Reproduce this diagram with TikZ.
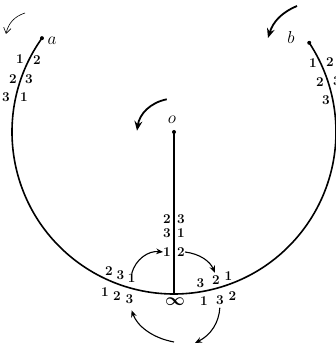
\documentclass[tikz,border=0pt]{standalone}
\usepackage{amsmath,amssymb}
\usepackage{tikz}
\usetikzlibrary{arrows.meta,positioning}

\begin{document}
\begin{tikzpicture}[
  x=1pt, y=1pt,
  num/.style={inner sep=0pt, font=\fontsize{13.5}{15}\selectfont\bfseries},
  lbl/.style={inner sep=0pt, font=\fontsize{16}{18}\selectfont},
  dot/.style={circle, fill=black, inner sep=0pt, minimum size=4pt},
  arr/.style={-{Stealth[length=2.4mm, width=2mm]}, line width=1.1pt},
  turn/.style={-{Stealth[length=3.4mm, width=2.8mm, inset=1.2mm]}, line width=1.8pt},
  thinturn/.style={-{Straight Barb[length=2mm, width=2.6mm]}, line width=0.6pt}]
  \useasboundingbox (0,0) rectangle (336,345);
  \clip (0,0) rectangle (336,345);
  % centre of the circle and its two ends
  \node[dot] (o) at (174,213) {};
  \path (o.center) ++(144.6:162) node[dot] (a) {};
  \path (o.center) ++(33.4:162) node[dot] (b) {};
  \coordinate (bot) at (174,51);
  \draw[line width=1.6pt] (a.center) arc[start angle=144.6, end angle=393.4, radius=162];
  \draw[line width=1.4pt] (o.center) -- (bot);
  \node[lbl] (la) at (52,304) {$a$};
  \node[lbl] (lb) at (291,307) {$b$};
  \node[lbl] (lo) at (172,225) {$o$};
  \node[inner sep=0pt, font=\fontsize{19}{21}\selectfont] (inf) at (175,43) {$\boldsymbol{\infty}$};

  % digits beside the ends a and b
  \node[num] (ao1) at (20,286) {1}; \node[num] (ai1) at (37,285) {2};
  \node[num] (ao2) at (13,266) {2}; \node[num] (ai2) at (29,266) {3};
  \node[num] (ao3) at (6,248) {3};  \node[num] (ai3) at (24,248) {1};
  \node[num] (bi1) at (313,282) {1}; \node[num] (bo1) at (330,283) {2};
  \node[num] (bi2) at (320,263) {2}; \node[num] (bo2) at (337,264) {3};
  \node[num] (bi3) at (326,245) {3};

  % digits along the line o--infinity
  \node[num] (vl1) at (167,125.5) {2}; \node[num] (vr1) at (181,125.5) {3};
  \node[num] (vl2) at (167,111.5) {3}; \node[num] (vr2) at (181,111.5) {1};
  \node[num] (vl3) at (167,93) {1};    \node[num] (vr3) at (181,93) {2};

  % digits near infinity
  \node[num] (lu1) at (109,74) {2}; \node[num] (lu2) at (120.5,70) {3}; \node[num] (lu3) at (131.7,67) {1};
  \node[num] (ld1) at (105,53) {1}; \node[num] (ld2) at (117,49) {2};   \node[num] (ld3) at (129.3,46) {3};
  \node[num] (ru1) at (200.5,62) {3}; \node[num] (ru2) at (216,65) {2}; \node[num] (ru3) at (228.3,68.5) {1};
  \node[num] (rd1) at (204,44) {1};   \node[num] (rd2) at (220,45) {3}; \node[num] (rd3) at (232.5,49) {2};

  \coordinate (br) at (195,2);
  \coordinate (bl) at (174,3);
  \draw[arr] (lu3.north) to[bend left=40] (vl3.west);
  \draw[arr, shorten >=3pt] (vr3.east) to[bend left=30] (ru2.north);
  \draw[arr, shorten <=3pt] (rd2.south) to[bend left=30] (br);
  \draw[arr, shorten >=7pt] (bl) to[bend left=30] (ld3.south);

  % turning arrows
  \coordinate (ta1) at (25,332);  \coordinate (ta2) at (6,311);
  \coordinate (tb1) at (297,339); \coordinate (tb2) at (268,307);
  \coordinate (to1) at (166.7,245.7); \coordinate (to2) at (137,214.3);
  \draw[thinturn] (ta1) to[bend right=30] (ta2);
  \draw[turn] (tb1) to[bend right=25] (tb2);
  \draw[turn] (to1) to[bend right=35] (to2);
\end{tikzpicture}
\end{document}
